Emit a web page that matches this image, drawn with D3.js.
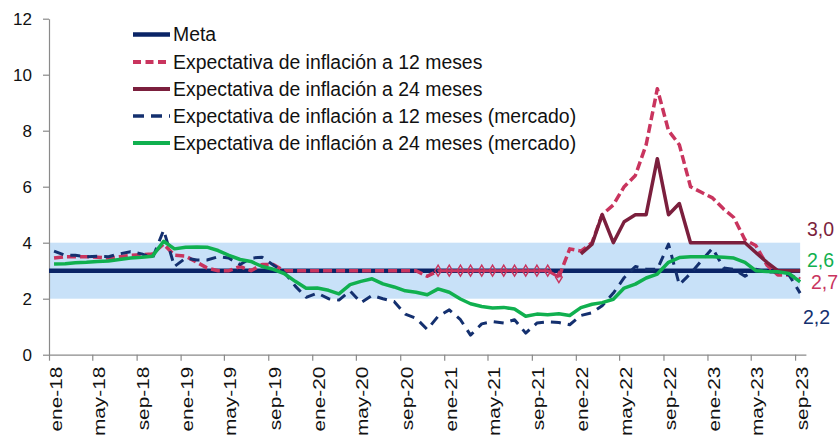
<!DOCTYPE html>
<html>
<head>
<meta charset="utf-8">
<script src="https://cdn.jsdelivr.net/npm/d3@7"></script>
<style>
  html, body { margin: 0; padding: 0; background: #ffffff; }
  svg { display: block; font-family: Arial, "Liberation Sans", sans-serif; }
</style>
</head>
<body>
<svg id="chart" width="840" height="438"></svg>
<script>
// ---------------- DATA ----------------
const yTicks = [0, 2, 4, 6, 8, 10, 12];
const tickLabels = ["ene-18","may-18","sep-18","ene-19","may-19","sep-19","ene-20","may-20","sep-20",
  "ene-21","may-21","sep-21","ene-22","may-22","sep-22","ene-23","may-23","sep-23"];
const metaValue = 3;
const bandRange = [2, 4];
const endLabels = ["3,0", "2,6", "2,7", "2,2"];

// monthly values, ene-18 .. sep-23 (69 months)
const exp12 = [3.45,3.5,3.5,3.5,3.48,3.45,3.5,3.55,3.57,3.6,3.95,3.55,
  3.52,3.3,3.1,3.0,3.0,3.15,3.0,3.22,3.22,3.0,3.0,3.0,
  3.0,3.0,3.0,3.0,3.0,3.0,3.0,3.0,3.0,3.0,2.8,3.0,
  3.0,3.0,3.0,3.0,3.0,3.0,3.0,3.0,3.0,3.0,2.77,3.78,
  3.7,4.0,5.0,5.35,6.0,6.4,7.5,9.5,8.0,7.5,6.0,5.8,
  5.6,5.2,4.9,4.1,3.9,3.2,2.85,2.85,2.7];
const exp24 = [null,null,null,null,null,null,null,null,null,null,null,null,
  null,null,null,null,null,null,null,null,null,null,null,null,
  null,null,null,null,null,null,null,null,null,null,null,null,
  null,null,null,null,null,null,null,null,null,null,null,null,
  3.6,3.95,5.0,4.0,4.75,5.0,5.0,7.0,5.0,5.4,4.0,4.0,
  4.0,4.0,4.0,4.0,3.65,3.3,3.0,3.0,3.0];
const exp12m = [3.7,3.55,3.55,3.5,3.52,3.5,3.6,3.68,3.6,3.45,4.45,3.15,
  3.45,3.38,3.38,3.5,3.45,3.22,3.45,3.48,3.2,2.95,2.45,2.05,
  2.2,2.0,1.95,2.28,1.86,2.12,2.0,1.9,1.45,1.3,0.9,1.37,
  1.6,1.25,0.7,1.1,1.18,1.13,1.25,0.77,1.13,1.17,1.15,1.07,
  1.4,1.5,1.75,2.2,2.75,3.15,3.05,3.05,3.95,2.5,2.9,3.35,
  3.8,3.1,3.05,2.8,3.05,2.95,2.95,2.85,2.2];
const exp24m = [3.24,3.25,3.28,3.3,3.33,3.35,3.4,3.45,3.48,3.52,4.05,3.78,
  3.84,3.85,3.84,3.72,3.55,3.4,3.33,3.15,3.05,2.9,2.62,2.37,
  2.38,2.3,2.17,2.5,2.62,2.71,2.53,2.42,2.28,2.23,2.14,2.35,
  2.23,1.99,1.82,1.72,1.67,1.69,1.63,1.37,1.45,1.43,1.46,1.4,
  1.68,1.8,1.86,1.98,2.38,2.52,2.74,2.88,3.3,3.47,3.5,3.5,
  3.5,3.48,3.45,3.3,3.0,2.97,2.96,2.9,2.6];
const markerRange = [35, 46]; // months drawn with solid line + diamond markers

const legendNames = ["Meta", "Expectativa de inflación a 12 meses", "Expectativa de inflación a 24 meses",
  "Expectativa de inflación a 12 meses (mercado)", "Expectativa de inflación a 24 meses (mercado)"];

// ---------------- STYLE ----------------
const C = {
  meta: "#0a2466", exp12: "#c9345e", exp24: "#7b1f3d", exp12m: "#14306f", exp24m: "#10b04f",
  band: "#c8e1f8", axis: "#8a8a8a", text: "#111111"
};

const svg = d3.select("#chart");
const startDate = new Date(2018, 0, 1);
const endDate = new Date(2023, 9, 1);
const months = d3.timeMonth.range(startDate, endDate);
const pointDate = months.map(m => new Date(m.getFullYear(), m.getMonth(), 15));

const x = d3.scaleTime().domain([startDate, endDate]).range([49, 805.9]);
const y = d3.scaleLinear().domain([0, 12]).range([354.7, 18.7]);

// band
const lastDate = pointDate[pointDate.length - 1];
svg.append("rect")
  .attr("x", x(startDate)).attr("width", x(lastDate) - x(startDate))
  .attr("y", y(bandRange[1])).attr("height", y(bandRange[0]) - y(bandRange[1]))
  .attr("fill", C.band);

// axes
const yAxis = svg.append("g").attr("transform", "translate(49,0)")
  .call(d3.axisLeft(y).tickValues(yTicks).tickSize(6).tickSizeOuter(0).tickPadding(11));
yAxis.select(".domain").attr("stroke", C.axis).attr("stroke-width", 1.2);
yAxis.selectAll(".tick line").attr("stroke", C.axis).attr("stroke-width", 1.2);
yAxis.selectAll(".tick text").attr("font-size", 17).attr("fill", C.text)
  .attr("font-family", "Arial, 'Liberation Sans', sans-serif");

const tickDates = d3.timeMonth.every(4).range(startDate, new Date(2023, 8, 2));
const xAxis = svg.append("g").attr("transform", `translate(0,${y(0)})`)
  .call(d3.axisBottom(x).tickValues(tickDates).tickSize(6).tickSizeOuter(0)
    .tickFormat((d, i) => tickLabels[i]));
xAxis.select(".domain").attr("stroke", C.axis).attr("stroke-width", 1.2);
xAxis.selectAll(".tick line").attr("stroke", C.axis).attr("stroke-width", 1.2);
xAxis.selectAll(".tick text")
  .attr("x", 0).attr("y", 0).attr("dy", 0)
  .attr("text-anchor", "end")
  .attr("font-size", 16).attr("fill", C.text)
  .attr("font-family", "Arial, 'Liberation Sans', sans-serif")
  .attr("transform", "translate(12,12) rotate(-90) scale(1.3,1)");

// meta line
const metaLine = d3.line().x(d => x(d)).y(() => y(metaValue));
svg.append("path").attr("d", metaLine([startDate, lastDate]))
  .attr("fill", "none").attr("stroke", C.meta).attr("stroke-width", 4.5);

function seriesPath(values, from, to, color, width, dash) {
  const pts = values.map((v, i) => ({ d: pointDate[i], v, i }))
    .filter(p => p.v !== null && p.i >= from && p.i <= to);
  const line = d3.line().x(p => x(p.d)).y(p => y(p.v));
  const p = svg.append("path").attr("d", line(pts))
    .attr("fill", "none").attr("stroke", color).attr("stroke-width", width)
    .attr("stroke-linejoin", "round");
  if (dash) p.attr("stroke-dasharray", dash);
  return p;
}

// 12-month expectation (dashed, with solid marked segment)
seriesPath(exp12, 0, markerRange[0], C.exp12, 3.5, "9,4");
seriesPath(exp12, markerRange[0], markerRange[1], C.exp12, 3, null);
seriesPath(exp12, markerRange[1], 68, C.exp12, 3.5, "9,4");
const diamond = "M0,-5.5L3.3,0L0,5.5L-3.3,0Z";
svg.append("g").selectAll("path")
  .data(exp12.map((v, i) => ({ v, i })).filter(p => p.i >= markerRange[0] && p.i <= markerRange[1]))
  .join("path")
  .attr("d", diamond)
  .attr("transform", p => `translate(${x(pointDate[p.i])},${y(p.v)})`)
  .attr("fill", "none").attr("stroke", C.exp12).attr("stroke-width", 1.4);

// 24-month expectation
seriesPath(exp24, 0, 68, C.exp24, 3.5, null);
// market 12-month
seriesPath(exp12m, 0, 68, C.exp12m, 3, "10,7");
// market 24-month
seriesPath(exp24m, 0, 68, C.exp24m, 3.5, null);

// end labels
const endColors = [C.exp24, C.exp24m, C.exp12, C.exp12m];
const endPos = [[807, 229], [807, 260], [811, 282], [803, 317]];
svg.append("g").selectAll("text").data(endLabels).join("text")
  .attr("x", (d, i) => endPos[i][0]).attr("y", (d, i) => endPos[i][1])
  .attr("dy", "0.36em")
  .attr("font-size", 19.5).attr("fill", (d, i) => endColors[i])
  .text(d => d);

// legend
const legColors = [C.meta, C.exp12, C.exp24, C.exp12m, C.exp24m];
const legDash = [null, "8,4.5", null, "11,7", null];
const legWidth = [4.5, 4, 4, 3.5, 4];
const legY = [34.5, 62, 89, 116, 143];
const leg = svg.append("g");
legendNames.forEach((name, i) => {
  const l = leg.append("line").attr("x1", 133).attr("x2", 170)
    .attr("y1", legY[i]).attr("y2", legY[i])
    .attr("stroke", legColors[i]).attr("stroke-width", legWidth[i]);
  if (legDash[i]) l.attr("stroke-dasharray", legDash[i]);
  leg.append("text").attr("x", 173).attr("y", legY[i]).attr("dy", "0.36em")
    .attr("font-size", 19.4).attr("fill", C.text).text(name);
});
</script>
</body>
</html>
